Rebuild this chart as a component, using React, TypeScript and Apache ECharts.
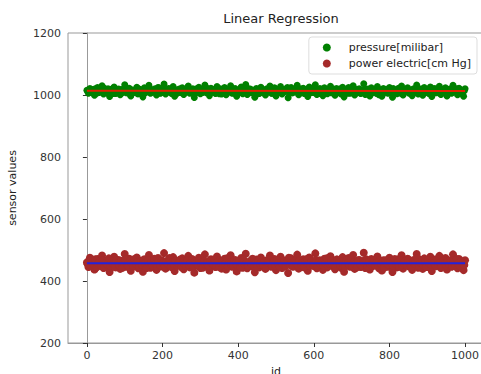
import React, { useEffect, useRef } from "react";
import * as echarts from "echarts";

// pressure readings at ids 0, 4, 8, ... 1000
const pressure: number[] = [
  1015,1006,1021,1010,1018,999,1013,1024,1008,1012,1030,1003,1016,1009,1020,995,1014,1011,1026,1005,
  1013,1019,1001,1017,1010,1033,1007,1014,1022,997,1016,1012,1008,1025,1004,1018,1013,994,1023,1009,
  1015,1031,1006,1017,1011,1020,1000,1024,1012,1007,1016,1035,1003,1014,1021,1010,1005,1027,996,1015,
  1011,1019,1008,1023,1002,1016,1013,1029,1006,1012,1020,992,1015,1009,1025,1004,1018,1012,1032,1007,
  1016,998,1022,1010,1014,1005,1027,1009,1019,1003,1012,1024,1001,1017,1010,1030,1006,1015,1021,996,
  1013,1008,1026,1004,1016,1034,1002,1012,1019,1007,1011,993,1021,1014,1005,1025,1010,1017,1000,1020,
  1012,1029,1006,1014,1023,997,1018,1009,1027,1003,1015,1011,1020,991,1013,1024,1007,1016,1010,1031,
  1001,1019,1012,1022,1005,1015,995,1026,1010,1018,1008,1033,1002,1014,1021,1009,998,1023,1012,1004,
  1017,1028,1008,1013,999,1021,1011,1019,1003,1025,994,1015,1010,1024,1006,1012,1030,1000,1018,1010,
  1020,1005,1014,1036,1002,1012,1019,997,1023,1007,1016,1011,1027,1001,1014,996,1021,1009,1017,1006,
  1024,1011,993,1016,1013,1004,1022,1008,1029,1000,1018,1012,1023,1006,1015,998,1020,1010,1032,1003,
  1012,1019,999,1024,1010,1017,1005,1026,995,1014,1021,1007,1012,1028,1002,1018,1009,1023,997,1013,
  1019,1006,1031,1011,1016,1001,1022,1008,1013,996,1020,
];
// pressure readings at ids 2, 6, 10, ... 998
const pressureB: number[] = [
  1012,1018,1008,1015,1010,1020,1006,1014,1011,1017,1009,1022,1013,1007,1016,1011,1019,1005,1014,1012,
  1010,1017,1013,1008,1021,1011,1015,1006,1018,1012,1009,1016,1014,1004,1019,1010,1013,1017,1007,1015,
  1011,1020,1008,1014,1012,1018,1010,1023,1006,1013,1016,1009,1015,1011,1019,1007,1014,1012,1017,1005,
  1013,1010,1021,1008,1016,1012,1014,1009,1018,1011,1015,1006,1020,1013,1010,1017,1008,1014,1012,1022,
  1007,1015,1011,1018,1009,1013,1016,1004,1019,1012,1010,1015,1008,1017,1013,1011,1020,1006,1014,1012,
  1016,1009,1018,1011,1013,1007,1021,1014,1010,1015,1012,1017,1005,1016,1011,1019,1008,1013,1015,1010,
  1018,1012,1006,1014,1020,1009,1016,1011,1013,1008,1017,1012,1024,1010,1015,1007,1018,1013,1011,1016,
  1009,1014,1019,1006,1012,1017,1010,1015,1008,1021,1013,1011,1016,1005,1014,1018,1012,1009,1017,1010,
  1015,1007,1020,1013,1011,1016,1008,1014,1019,1012,1010,1017,1006,1015,1013,1022,1009,1014,1011,1018,
  1007,1016,1012,1010,1019,1013,1008,1015,1011,1017,1014,1005,1020,1012,1010,1016,1009,1018,1013,1011,
  1015,1008,1021,1012,1014,1010,1017,1006,1016,1013,1011,1019,1009,1014,1012,1018,1007,1015,1010,1020,
  1013,1011,1016,1008,1017,1014,1010,1023,1012,1009,1015,1018,1011,1006,1016,1013,1019,1010,1014,1012,
  1017,1008,1015,1011,1020,1013,1009,1016,1012,1014,
];

// power readings at ids 0, 4, 8, ... 1000
const power: number[] = [
  460,445,475,452,466,437,458,471,449,455,482,442,463,447,469,429,461,453,478,444,
  457,468,439,464,451,487,446,459,472,433,462,454,448,476,441,465,456,430,470,450,
  459,484,443,461,452,467,436,474,455,447,463,490,440,458,469,451,445,477,432,460,
  454,466,448,473,438,462,457,481,444,453,468,427,459,450,475,442,464,456,486,447,
  461,434,470,452,458,445,479,449,466,440,455,472,437,463,451,483,446,460,468,431,
  457,450,474,443,462,488,441,456,465,448,453,428,469,459,444,476,452,461,439,467,
  455,482,446,458,471,435,463,449,478,442,460,454,466,426,457,473,447,461,451,485,
  440,464,456,470,445,459,433,476,452,463,448,489,441,458,467,450,436,472,455,444,
  462,480,449,457,438,469,453,465,443,477,430,460,451,474,446,456,484,439,463,452,
  468,445,459,491,442,455,466,437,471,448,461,454,479,441,458,434,467,450,463,446,
  475,453,429,462,457,444,470,449,483,440,464,455,472,447,460,436,468,451,487,443,
  456,466,439,473,452,461,445,478,432,459,469,448,455,481,442,463,450,474,437,458,
  465,446,486,453,460,441,471,449,457,435,467,
];
// power readings at ids 2, 6, 10, ... 998
const powerB: number[] = [
  455,466,448,461,452,470,444,458,463,450,468,446,459,454,473,449,462,456,445,467,
  457,451,464,443,460,469,453,447,465,458,450,471,455,461,446,463,452,468,457,442,
  466,454,459,449,472,456,445,463,451,467,458,448,461,454,474,447,460,453,465,450,
  457,469,444,462,455,449,466,452,458,471,446,463,456,451,468,459,443,464,453,460,
  448,467,457,454,470,450,462,445,459,465,452,456,473,447,461,455,449,466,458,451,
  464,444,460,469,453,457,448,462,455,472,450,458,446,467,454,461,452,465,443,459,
  470,456,449,463,451,468,457,445,461,454,466,448,460,475,452,458,447,464,456,450,
  467,453,459,444,462,471,455,449,465,451,457,468,446,461,454,463,450,458,473,448,
  456,465,452,460,445,469,457,451,463,454,447,466,459,453,472,449,461,456,444,467,
  455,450,464,458,470,446,462,453,457,468,451,459,448,465,455,461,443,467,456,452,
  463,457,449,471,454,460,446,466,452,458,464,450,469,455,447,462,457,453,474,448,
  459,466,451,461,445,468,456,452,463,458,449,470,454,460,447,465,457,451,462,455,
  467,448,459,453,471,456,450,464,458,452,
];

const idStep = 4;
const idOffsetB = 2;
const fitIds = [0, 1000];
const pressureFit = [1013.6, 1013.2];
const powerFit = [457.6, 457.0];
const xTicks = [0, 200, 400, 600, 800, 1000];

const FONT = "DejaVu Sans";

export default function App() {
  const ref = useRef<HTMLDivElement>(null);
  useEffect(() => {
    document.body.style.margin = "0";
    if (!ref.current) return;
    const chart = echarts.init(ref.current, undefined, { renderer: "svg" });
    const toPts = (vals: number[], off: number) => vals.map((v, i) => [off + i * idStep, v]);
    const fitPts = (vals: number[]) => vals.map((v, i) => [fitIds[i], v]);
    const plain = (v: number) => String(v);
    chart.setOption({
      animation: false,
      backgroundColor: "#fff",
      textStyle: { fontFamily: FONT },
      title: {
        text: "Linear Regression",
        left: 276,
        textAlign: "center",
        top: 7,
        textStyle: { fontFamily: FONT, fontSize: 13, fontWeight: "normal", color: "#222" },
      },
      legend: {
        data: ["pressure[milibar]", "power electric[cm Hg]"],
        orient: "vertical",
        right: 4,
        top: 37,
        icon: "circle",
        itemWidth: 8,
        itemHeight: 8,
        itemGap: 5,
        padding: [5, 6, 5, 14],
        borderColor: "#ddd",
        borderWidth: 1,
        borderRadius: 3,
        textStyle: { fontFamily: FONT, fontSize: 11, color: "#222", padding: [0, 0, 0, 13] },
      },
      grid: {
        left: 68,
        top: 33,
        width: 416,
        height: 310,
        show: true,
        borderColor: "#999",
        borderWidth: 1,
        containLabel: false,
        outerBoundsMode: "none",
      },
      xAxis: {
        type: "value",
        min: -50,
        max: 1050,
        name: "id",
        nameLocation: "middle",
        nameGap: 21,
        nameTextStyle: { fontFamily: FONT, fontSize: 11, color: "#222" },
        axisLine: { show: true, onZero: false, lineStyle: { color: "#999" } },
        axisTick: { show: true, length: 4, customValues: xTicks, lineStyle: { color: "#333" } },
        axisLabel: { customValues: xTicks, formatter: plain, margin: 7, fontSize: 11, color: "#333", fontFamily: FONT },
        splitLine: { show: false },
      },
      yAxis: {
        type: "value",
        min: 200,
        max: 1200,
        interval: 200,
        name: "sensor values",
        nameLocation: "middle",
        nameGap: 50,
        nameTextStyle: { fontFamily: FONT, fontSize: 11, color: "#222" },
        axisLine: { show: true, lineStyle: { color: "#999" } },
        axisTick: { show: true, length: 4, lineStyle: { color: "#333" } },
        axisLabel: { formatter: plain, margin: 7, fontSize: 11, color: "#333", fontFamily: FONT },
        splitLine: { show: false },
      },
      series: [
        {
          name: "pressure[milibar]",
          type: "scatter",
          data: [...toPts(pressure, 0), ...toPts(pressureB, idOffsetB)],
          symbolSize: 7,
          itemStyle: { color: "#008000", opacity: 1 },
          z: 2,
        },
        {
          name: "power electric[cm Hg]",
          type: "scatter",
          data: [...toPts(power, 0), ...toPts(powerB, idOffsetB)],
          symbolSize: 8,
          itemStyle: { color: "#a52a2a", opacity: 1 },
          z: 2,
        },
        {
          name: "pressureFit",
          type: "line",
          data: fitPts(pressureFit),
          symbol: "none",
          lineStyle: { color: "#e02000", width: 2 },
          z: 5,
        },
        {
          name: "powerFit",
          type: "line",
          data: fitPts(powerFit),
          symbol: "none",
          lineStyle: { color: "#2222dd", width: 2 },
          z: 5,
        },
      ],
    });
    return () => chart.dispose();
  }, []);
  return <div ref={ref} style={{ width: 481, height: 374 }} />;
}
